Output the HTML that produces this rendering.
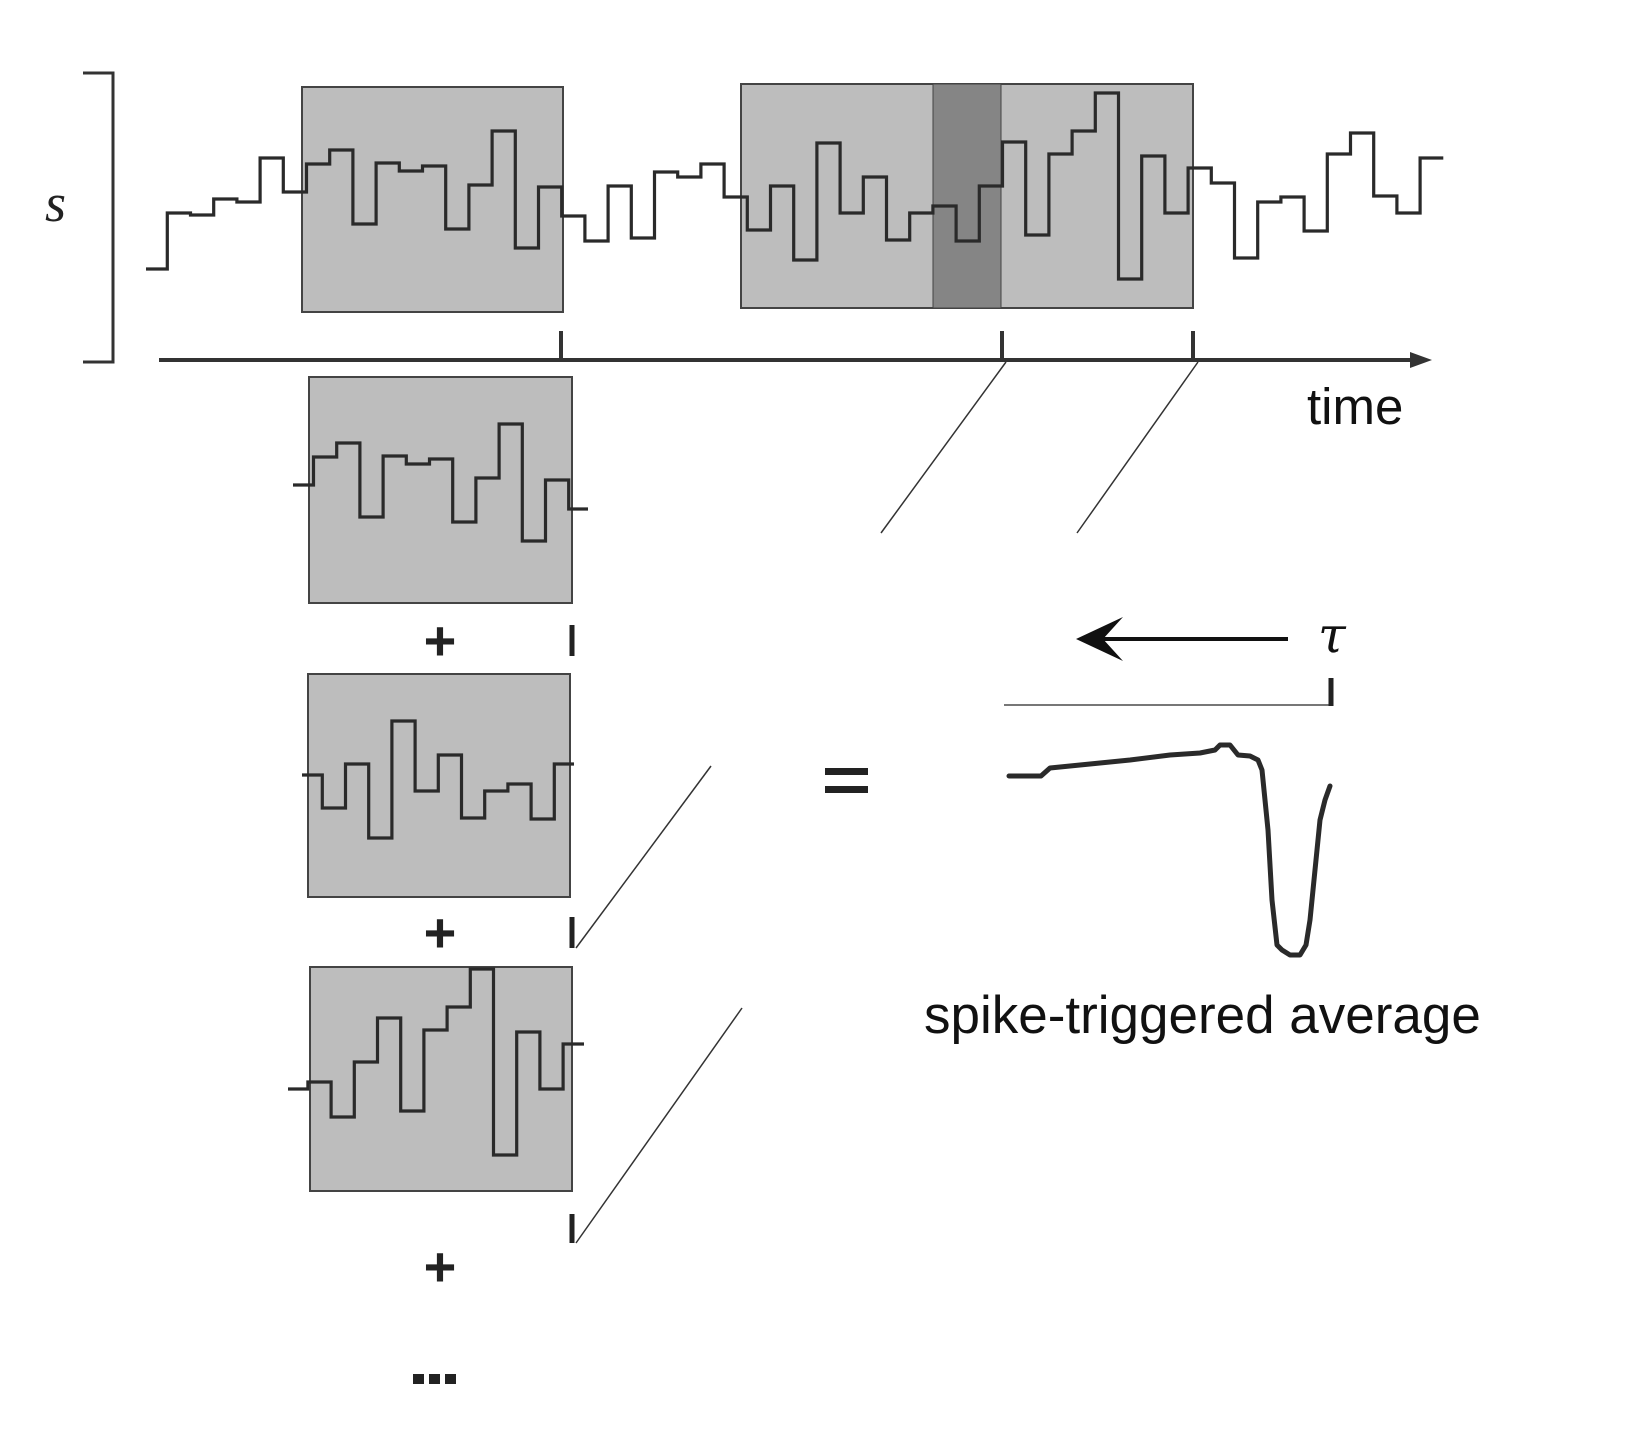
<!DOCTYPE html>
<html><head><meta charset="utf-8"><style>
html,body{margin:0;padding:0;background:#fff;}
svg{display:block;}
</style></head><body>
<svg id="fig" width="1625" height="1430" viewBox="0 0 1625 1430" xmlns="http://www.w3.org/2000/svg">
<defs>
<clipPath id="clipA"><rect x="293" y="300" width="295" height="400"/></clipPath>
<clipPath id="clipB"><rect x="302" y="600" width="272" height="400"/></clipPath>
<clipPath id="clipC"><rect x="288" y="900" width="296" height="400"/></clipPath>
</defs>
<g stroke="#333" stroke-width="3" fill="none">
<path d="M83 73 H113 V362 H83"/>
</g>
<text x="45" y="221" font-family="Liberation Serif, serif" font-style="italic" font-size="54" fill="#222">s</text>
<rect x="302" y="87" width="261" height="225" fill="#bdbdbd" stroke="#444" stroke-width="2"/>
<rect x="741" y="84" width="452" height="224" fill="#bdbdbd" stroke="#444" stroke-width="2"/>
<rect x="933" y="84" width="68" height="224" fill="#858585" stroke="#444" stroke-width="1"/>
<g id="topTrace"></g>
<g stroke="#333" stroke-width="4">
<line x1="159" y1="360" x2="1415" y2="360"/>
<line x1="561" y1="331" x2="561" y2="360"/>
<line x1="1002" y1="331" x2="1002" y2="360"/>
<line x1="1193" y1="331" x2="1193" y2="360"/>
</g>
<polygon points="1432,360 1410,352 1410,368" fill="#333"/>
<text x="1307" y="424" font-family="Liberation Sans, sans-serif" font-size="51" fill="#111">time</text>
<g stroke="#333" stroke-width="1.5">
<line x1="1006" y1="362" x2="881" y2="533"/>
<line x1="1198" y1="362" x2="1077" y2="533"/>
<line x1="576" y1="948" x2="711" y2="766"/>
<line x1="576" y1="1243" x2="742" y2="1008"/>
</g>
<rect x="309" y="377" width="263" height="226" fill="#bdbdbd" stroke="#444" stroke-width="2"/>
<rect x="308" y="674" width="262" height="223" fill="#bdbdbd" stroke="#444" stroke-width="2"/>
<rect x="310" y="967" width="262" height="224" fill="#bdbdbd" stroke="#444" stroke-width="2"/>
<g id="snippets"></g>
<g stroke="#222" stroke-width="5">
<line x1="572" y1="625" x2="572" y2="656"/>
<line x1="572" y1="917" x2="572" y2="948"/>
<line x1="572" y1="1214" x2="572" y2="1243"/>
</g>
<g font-family="Liberation Sans, sans-serif" font-weight="bold" font-size="56" fill="#222" text-anchor="middle">
<text x="440" y="660">+</text>
<text x="440" y="952">+</text>
<text x="440" y="1286">+</text>
</g>
<g fill="#222">
<rect x="413" y="1374" width="11" height="10"/><rect x="429" y="1374" width="11" height="10"/><rect x="445" y="1374" width="11" height="10"/>
</g>
<g fill="#222">
<rect x="825" y="768" width="43" height="7"/><rect x="825" y="786" width="43" height="7"/>
</g>
<line x1="1288" y1="639" x2="1095" y2="639" stroke="#111" stroke-width="4"/>
<polygon points="1076,639 1123,617 1103,639 1123,661" fill="#111"/>
<text x="1318" y="652" font-family="DejaVu Serif, serif" font-style="italic" font-size="50" fill="#111">τ</text>
<line x1="1004" y1="705" x2="1332" y2="705" stroke="#777" stroke-width="2"/>
<line x1="1331" y1="678" x2="1331" y2="706" stroke="#222" stroke-width="5"/>
<g id="staG"></g>
<text x="924" y="1033" font-family="Liberation Sans, sans-serif" font-size="53" fill="#111">spike-triggered average</text>
</svg>
<script>
// stimulus levels (up = larger), one per time bin
const stimValues = [31,87,85,101,98,142,108,136,150,76,137,129,134,71,115,169,52,113,84,59,114,62,128,123,136,103,70,114,40,157,87,123,60,87,94,59,114,158,65,146,169,207,21,144,87,132,117,42,98,103,69,146,167,104,87,142];
// spike-triggered average: lag before spike and averaged value
const staLags = [321,289,280,250,200,160,130,115,110,100,92,80,72,68,62,58,53,48,40,30,24,20,15,10,5,0];
const staValues = [0,0,8,11,16,21,23,26,31,31,21,20,16,6,-54,-124,-169,-174,-179,-179,-169,-144,-94,-44,-24,-10];

const NS = 'http://www.w3.org/2000/svg';
function xEdge(i){ return i===0 ? 146 : 167.3 + (i-1)*23.2; }
function yStim(v){ return 300 - v; }
function stimPath(){
  let d = 'M' + xEdge(0) + ' ' + yStim(stimValues[0]);
  for (let i=0;i<stimValues.length;i++){
    if (i>0) d += ' V' + yStim(stimValues[i]);
    d += ' H' + xEdge(i+1);
  }
  return d;
}
const stimD = stimPath();
const topPath = document.createElementNS(NS,'path');
topPath.setAttribute('d', stimD);
topPath.setAttribute('fill','none');topPath.setAttribute('stroke','#2a2a2a');topPath.setAttribute('stroke-width','3.2');


document.getElementById('topTrace').appendChild(topPath);

const snips = [['clipA',7,293,'snippet-trace-a'],['clipB',-425,578,'snippet-trace-b'],['clipC',-625,876,'snippet-trace-c']];
const sg = document.getElementById('snippets');
snips.forEach(s=>{
  const g = document.createElementNS(NS,'g');
  g.setAttribute('clip-path','url(#'+s[0]+')');
  const p = document.createElementNS(NS,'path');
  p.setAttribute('d', stimD);
  p.setAttribute('transform','translate('+s[1]+','+s[2]+')');
  p.setAttribute('fill','none');p.setAttribute('stroke','#2a2a2a');p.setAttribute('stroke-width','3.2');
  
  
  g.appendChild(p); sg.appendChild(g);
});

function xSta(l){ return 1330 - l; }
function ySta(v){ return 776 - v; }
let sd = '';
staLags.forEach((l,i)=>{ sd += (i?' L':'M') + xSta(l) + ' ' + ySta(staValues[i]); });
const sp = document.createElementNS(NS,'path');
sp.setAttribute('d', sd);
sp.setAttribute('fill','none');sp.setAttribute('stroke','#2a2a2a');sp.setAttribute('stroke-width','5');
sp.setAttribute('stroke-linejoin','round');sp.setAttribute('stroke-linecap','round');


document.getElementById('staG').appendChild(sp);
</script>
</body></html>
